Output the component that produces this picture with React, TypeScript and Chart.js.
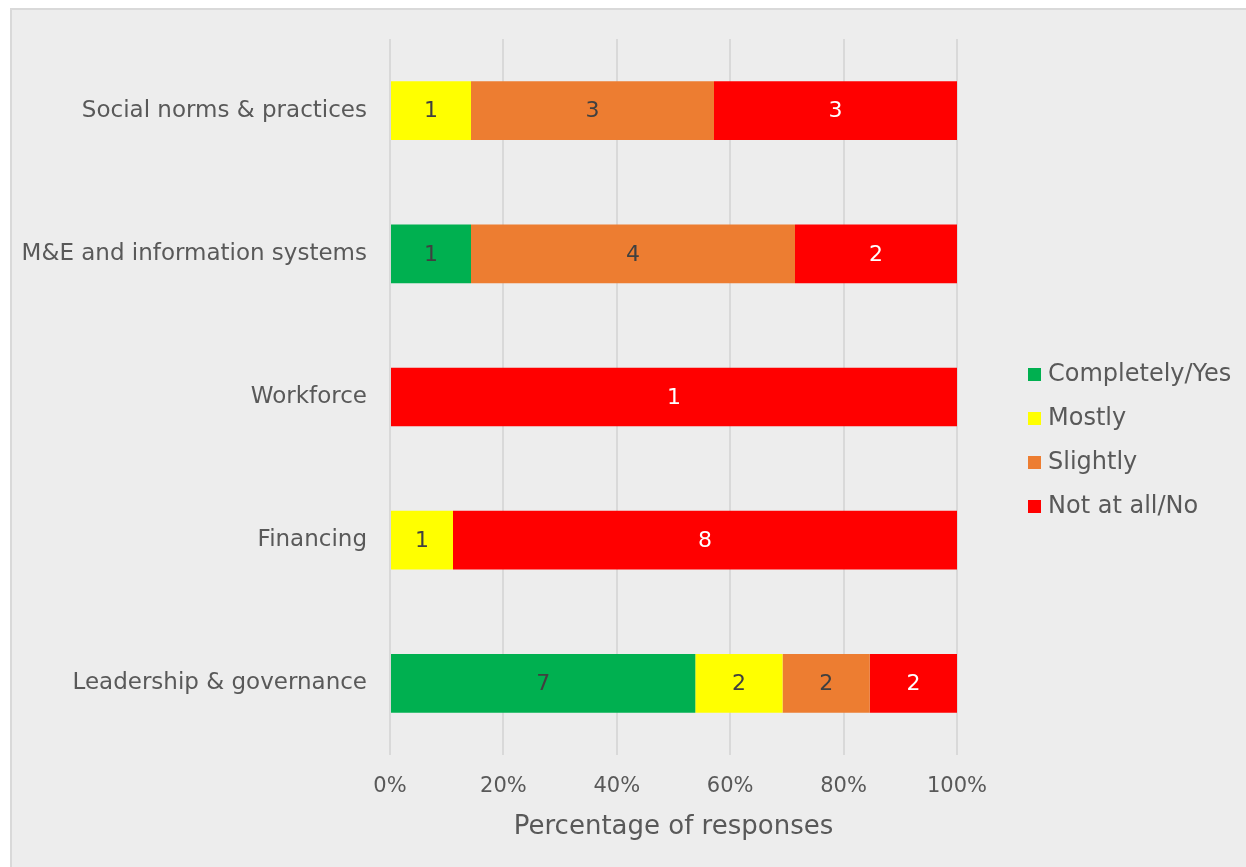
import React, { useEffect, useRef } from "react";
import { Chart, registerables } from "chart.js";

Chart.register(...registerables);

const categories = [
  "Social norms & practices",
  "M&E and information systems",
  "Workforce",
  "Financing",
  "Leadership & governance",
];
const seriesNames = ["Completely/Yes", "Mostly", "Slightly", "Not at all/No"];
const completelyYes = [0, 1, 0, 0, 7];
const mostly = [1, 0, 0, 1, 2];
const slightly = [3, 4, 0, 0, 2];
const notAtAllNo = [3, 2, 1, 8, 2];
const seriesColors = ["#00B050", "#FFFF00", "#ED7D31", "#FF0000"];
const valueLabelColors = ["#404040", "#404040", "#404040", "#FFFFFF"];
const xTickValues = [0, 20, 40, 60, 80, 100];
const xAxisTitle = "Percentage of responses";

const FONT = "'DejaVu Sans', sans-serif";
const TEXT = "#595959";

export default function App() {
  const ref = useRef<HTMLCanvasElement | null>(null);

  useEffect(() => {
    const canvas = ref.current;
    if (!canvas) return;
    const counts = [completelyYes, mostly, slightly, notAtAllNo];
    const totals = categories.map((_, i) =>
      counts.reduce((s, arr) => s + arr[i], 0)
    );

    const datasets = counts.map((arr, k) => ({
      label: seriesNames[k],
      data: arr.map((v, i) => (totals[i] ? (v / totals[i]) * 100 : 0)),
      counts: arr,
      backgroundColor: seriesColors[k],
      borderWidth: 0,
      categoryPercentage: 1,
      barPercentage: 0.41,
    }));

    const valueLabels = {
      id: "valueLabels",
      afterDatasetsDraw(chart: any) {
        const ctx = chart.ctx;
        ctx.save();
        ctx.font = `22px ${FONT}`;
        ctx.textAlign = "center";
        ctx.textBaseline = "middle";
        chart.data.datasets.forEach((ds: any, k: number) => {
          const meta = chart.getDatasetMeta(k);
          meta.data.forEach((el: any, i: number) => {
            const c = ds.counts[i];
            if (!c) return;
            const p = el.getProps(["x", "y", "base"], true);
            ctx.fillStyle = valueLabelColors[k];
            ctx.fillText(String(c), (p.x + p.base) / 2, p.y + 1);
          });
        });
        ctx.restore();
      },
    };

    const sideLegend = {
      id: "sideLegend",
      afterDraw(chart: any) {
        const ctx = chart.ctx;
        const area = chart.chartArea;
        const n = chart.data.datasets.length;
        const gap = 44;
        const cy = chart.height / 2 + 1.5;
        const x0 = area.right + 71;
        ctx.save();
        ctx.font = `24px ${FONT}`;
        ctx.textAlign = "left";
        ctx.textBaseline = "middle";
        chart.data.datasets.forEach((ds: any, k: number) => {
          const y = cy + (k - (n - 1) / 2) * gap;
          ctx.fillStyle = ds.backgroundColor;
          ctx.fillRect(x0, y - 6, 13, 13);
          ctx.fillStyle = TEXT;
          ctx.fillText(ds.label, x0 + 20, y + 1);
        });
        ctx.restore();
      },
    };

    const chart = new Chart(canvas, {
      type: "bar",
      data: { labels: categories, datasets: datasets as any },
      options: {
        indexAxis: "y",
        responsive: false,
        animation: false,
        layout: { padding: { top: 29, right: 289, bottom: 0, left: 0 } },
        plugins: {
          legend: { display: false },
          tooltip: { enabled: false },
        },
        scales: {
          x: {
            stacked: true,
            min: 0,
            max: 100,
            afterBuildTicks: (scale: any) => {
              scale.ticks = xTickValues.map((v) => ({ value: v }));
            },
            afterFit: (scale: any) => {
              scale.height = 112;
            },
            border: { display: false },
            grid: { color: "#D9D9D9", lineWidth: 2, drawTicks: false },
            ticks: {
              padding: 19,
              color: TEXT,
              font: { family: FONT, size: 21 },
              callback: (v: any) => `${v}%`,
            },
            title: {
              display: true,
              text: xAxisTitle,
              color: TEXT,
              font: { family: FONT, size: 26 },
              padding: { top: 0, bottom: 24 },
            },
          },
          y: {
            stacked: true,
            afterFit: (scale: any) => {
              scale.width = 378;
              scale.paddingTop = 0;
              scale.paddingBottom = 0;
            },
            border: { display: false },
            grid: { display: false, drawTicks: false },
            ticks: {
              padding: 23,
              color: TEXT,
              font: { family: FONT, size: 23 },
            },
          },
        },
      },
      plugins: [valueLabels, sideLegend],
    });

    return () => chart.destroy();
  }, []);

  return (
    <div
      style={{
        position: "fixed",
        left: 10,
        top: 8,
        width: 1236,
        height: 859,
        boxSizing: "border-box",
        borderTop: "2px solid #D9D9D9",
        borderLeft: "2px solid #D9D9D9",
        background: "#EDEDED",
        overflow: "hidden",
      }}
    >
      <canvas ref={ref} width={1234} height={857} style={{ display: "block" }} />
    </div>
  );
}
